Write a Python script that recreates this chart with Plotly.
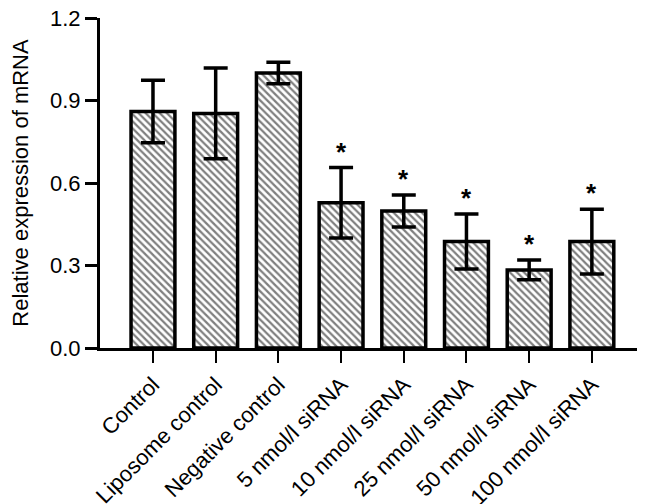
import plotly.graph_objects as go

categories = ["Control", "Liposome control", "Negative control", "5 nmol/l siRNA",
              "10 nmol/l siRNA", "25 nmol/l siRNA", "50 nmol/l siRNA", "100 nmol/l siRNA"]
values = [0.86, 0.853, 1.0, 0.528, 0.498, 0.387, 0.284, 0.387]
errors = [0.114, 0.165, 0.039, 0.128, 0.058, 0.100, 0.036, 0.118]
significant = [False, False, False, True, True, True, True, True]

FONT = "Arial, Liberation Sans, sans-serif"

fig = go.Figure()
fig.add_trace(go.Bar(
    x=categories, y=values, width=0.70,
    marker=dict(color="white", line=dict(color="black", width=3.5),
                pattern=dict(shape="\\", fgcolor="black", bgcolor="white",
                             size=5, solidity=0.45)),
    error_y=dict(type="data", array=errors, visible=True, color="black",
                 thickness=3.5, width=12),
    showlegend=False,
))

for c, v, e, s in zip(categories, values, errors, significant):
    if s:
        fig.add_annotation(x=c, y=v + e, text="<b>*</b>", showarrow=False,
                           yanchor="bottom", yshift=-1,
                           font=dict(family=FONT, size=26, color="black"))

# page body has an 8px default margin, so the figure is sized/offset to fit
fig.update_layout(
    width=638, height=496,
    margin=dict(l=92, r=9, t=10, b=156),
    plot_bgcolor="white", paper_bgcolor="white",
    font=dict(family=FONT, color="black"),
)
fig.update_xaxes(
    range=[-0.845, 7.72], showline=True, linecolor="black", linewidth=3,
    ticks="outside", ticklen=12, tickwidth=2, tickcolor="black",
    tickangle=-45, tickfont=dict(size=22, family=FONT),
    showgrid=False, zeroline=False, automargin=False,
    ticklabeloverflow="allow",
)
fig.update_yaxes(
    range=[0, 1.2], tickvals=[0, 0.3, 0.6, 0.9, 1.2],
    ticktext=["0.0", "0.3", "0.6", "0.9", "1.2"],
    showline=True, linecolor="black", linewidth=3,
    ticks="outside", ticklen=12, tickwidth=3, tickcolor="black",
    tickfont=dict(size=22, family=FONT),
    title=dict(text="Relative expression of mRNA", font=dict(size=22, family=FONT), standoff=20),
    showgrid=False, zeroline=False, automargin=False,
    ticklabeloverflow="allow",
)

fig.write_html("out.html")
